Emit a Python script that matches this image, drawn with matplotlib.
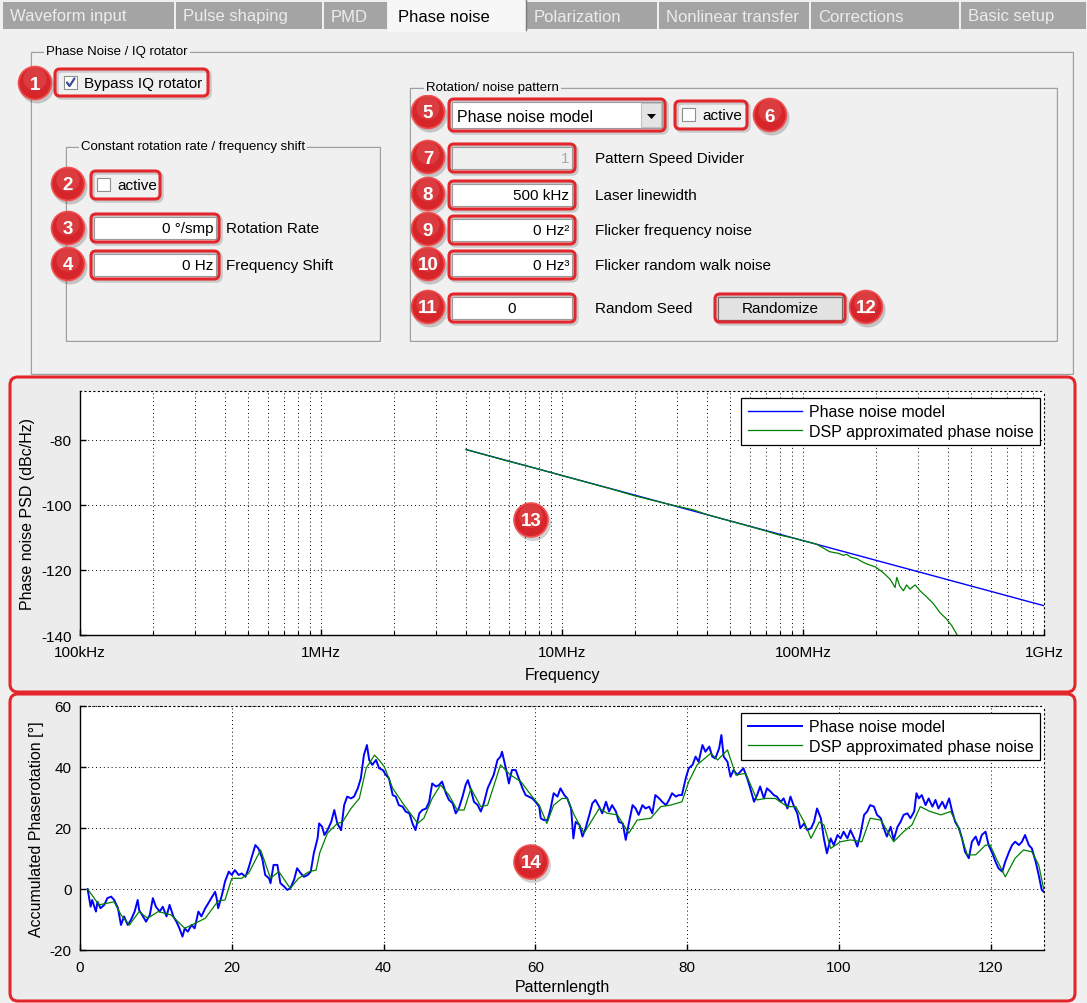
import matplotlib
matplotlib.use("Agg")
import matplotlib.pyplot as plt
from matplotlib.patches import Rectangle, Circle, FancyBboxPatch, Polygon
from matplotlib.ticker import FixedLocator, NullFormatter

plt.rcParams["font.family"] = ["Liberation Sans", "DejaVu Sans"]
plt.rcParams["axes.unicode_minus"] = False

W, H = 1087, 1004
BG = "#f0f0f0"
RED = "#e3262b"

# ---- GUI texts ----
tab_labels = ["Waveform input", "Pulse shaping", "PMD", "Phase noise",
              "Polarization", "Nonlinear transfer", "Corrections", "Basic setup"]
tab_edges = [2, 175, 323, 388, 526, 658, 810, 960, 1087]
active_tab = 3

# ---- PSD plot ----
psd_ticks = [1e5, 1e6, 1e7, 1e8, 1e9]
psd_ticklabels = ["100kHz", "1MHz", "10MHz", "100MHz", "1GHz"]
model_freq = [4e6, 1e9]
model_db = [-83, -131]
dsp_freq = [4e6, 5e6, 6e6, 8e6, 1e7, 1.3e7, 1.6e7, 2e7, 2.5e7, 3e7, 3.5e7, 4e7,
            5e7, 6e7, 7e7, 8e7, 9e7, 1.0e8, 1.14e8, 1.29e8, 1.4e8, 1.47e8,
            1.52e8, 1.58e8, 1.67e8, 1.75e8, 1.83e8, 2.0e8, 2.15e8, 2.3e8,
            2.41e8, 2.45e8, 2.52e8, 2.61e8, 2.69e8, 2.78e8, 2.92e8, 3.06e8,
            3.26e8, 3.47e8, 3.7e8, 3.94e8, 4.14e8, 4.34e8, 4.45e8]
dsp_db = [-83, -85, -86.6, -89, -91, -93.3, -95.1, -97.2, -99, -100.4, -101.5, -103,
          -105, -106.6, -108, -109.3, -110.1, -111, -112.1, -114.4, -114.9, -115.5,
          -115.2, -116.1, -116.5, -117.4, -118.1, -119.1, -120.8, -122.9,
          -125.4, -122.3, -124.9, -126.4, -124.6, -125.9, -124.6, -126.4,
          -128.3, -130.3, -133.1, -135.1, -137.1, -139.7, -141.5]

# ---- accumulated phase rotation ----
rot_x = [1.0, 1.2, 1.4, 1.6, 2.1, 2.3, 2.7, 3.2, 3.6, 4.1, 4.5, 5.0, 5.4, 5.8, 6.3,
         6.7, 7.2, 7.6, 7.8, 8.3, 8.7, 9.2, 9.6, 10.0, 10.5, 10.9, 11.4, 11.8, 12.3,
         12.7, 13.1, 13.5, 13.8, 14.2, 14.7, 15.1, 15.6, 16.0, 16.5, 16.9, 17.3,
         17.8, 18.0, 18.2, 18.7, 19.1, 19.6, 20.0, 20.4, 20.9, 21.3, 21.8, 22.2,
         22.7, 23.1, 23.5, 24.0, 24.4, 24.9, 25.1, 25.5, 26.0, 26.4, 26.9, 27.3,
         27.7, 28.2, 28.6, 29.1, 29.5, 30.0, 30.4, 30.8, 31.3, 31.5, 31.9,
         32.2, 32.6, 33.1, 33.5, 33.9, 34.4, 34.8, 35.2, 35.7, 36.1, 36.6, 37.0,
         37.4, 37.8, 38.1, 38.5, 39.0, 39.4, 39.9, 40.3, 40.7, 41.2, 41.6, 42.0,
         42.5, 42.9, 43.4, 43.8, 44.2, 44.7, 45.1, 45.6, 46.0, 46.4, 46.9, 47.3,
         47.7, 48.2, 48.6, 49.1, 49.5, 49.9, 50.4, 50.8, 51.1, 51.5, 51.9, 52.4,
         52.8, 53.2, 53.7, 54.1, 54.5, 55.0, 55.4, 55.6, 56.1, 56.5, 56.9, 57.4,
         57.8, 58.3, 58.7, 59.1, 59.6, 60.0, 60.5, 60.7, 61.1, 61.6, 62.0, 62.4,
         62.9, 63.3, 63.8, 64.2, 64.7, 65.0, 65.3, 65.8, 66.2, 66.6, 67.1, 67.5,
         67.9, 68.4, 68.8, 69.3, 69.7, 70.1, 70.6, 71.0, 71.5, 71.9, 72.3, 72.8,
         73.2, 73.6, 74.1, 74.5, 75.0, 75.4, 75.8, 76.3, 76.7, 77.2, 77.6, 78.0,
         78.5, 78.9, 79.3, 79.8, 80.2, 80.7, 81.1, 81.5, 82.0, 82.4, 82.9, 83.3,
         83.7, 84.2, 84.5, 84.8, 85.3, 85.7, 86.1, 86.6, 87.0, 87.4, 87.9, 88.3,
         88.8, 89.2, 89.6, 90.1, 90.5, 91.0, 91.4, 91.8, 92.3, 92.7, 93.2, 93.6,
         94.0, 94.5, 94.9, 95.4, 95.8, 96.3, 96.7, 97.1, 97.6, 98.0, 98.4, 98.9,
         99.3, 99.8, 100.2, 100.6, 101.1, 101.5, 102.0, 102.4, 102.8, 103.3,
         103.7, 104.1, 104.6, 105.0, 105.5, 105.9, 106.3, 106.8, 107.2, 107.7,
         108.1, 108.5, 109.0, 109.4, 109.9, 110.2, 110.5, 110.9, 111.4, 111.8,
         112.3, 112.7, 113.1, 113.6, 114.0, 114.5, 114.9, 115.3, 115.8, 116.2,
         116.6, 117.1, 117.5, 118.0, 118.4, 118.8, 119.3, 119.7, 120.2, 120.6,
         121.0, 121.5, 121.9, 122.4, 122.8, 123.2, 123.7, 124.1, 124.5, 125.0,
         125.4, 125.9, 126.3, 126.7, 127.0]
rot_model = [0, -3, -5.8, -3.6, -7.4, -4.2, -6.3, -5.2, -3, -2.5, -3.6, -6.3, -11.8, -9, -11.8,
             -10.2, -7.4, -3.6, -7, -9, -10.7, -8.5, -3, -5.8, -7.4, -5.8, -9, -5.2, -9,
             -10.7, -12.9, -15.6, -12.9, -14, -11.8, -12.9, -7.4, -9, -6.3, -4.7, -3,
             -0.9, -3, -6.3, -2, 2.4, 5.7, 4.6, 6.2, 4.6, 5.1, 4, 6.8,
             11.1, 14.4, 13.3, 10.1, 4.6, 3.5, 1.9, 7.9, 7.9, 1.9, 0.8, -0.3,
             0.2, 3, 6.8, 5.1, 4, 4.6, 5.7, 11.7, 16.6, 21.5, 20.4,
             17.7, 19.3, 22, 25.9, 21.5, 19.3, 27.5, 30.3, 29.7, 30.3, 33, 36.3,
             43.9, 47.2, 42.3, 40.7, 42.3, 39.6, 39, 37.4, 36.3, 30.8, 30.3, 27.5,
             27, 25.4, 24.8, 21.5, 19.3, 24.8, 25.9, 26.4, 28.6, 34.6, 33.6, 34.1,
             35.2, 31.4, 29.2, 28.1, 24.8, 26.4, 30.3, 34.1, 35.7, 32.5, 28.6, 27.5,
             25.4, 28.1, 33, 35.2, 37.4, 42.3, 43.4, 45, 39.6, 34.6, 39, 39,
             36.3, 33, 30.8, 30.3, 29.7, 28.6, 27, 23.2, 22.6, 22.6, 26.4, 31.4,
             30.3, 33, 30.8, 29.7, 26.4, 16.6, 22, 21, 17.2, 19.9, 24.3, 28.1,
             29.2, 27, 24.8, 28.6, 25.4, 27.5, 25.4, 22, 21.5, 16.1, 21.5, 27.5,
             26.4, 24.3, 27.5, 26.4, 27, 24.8, 30.8, 29.7, 28.6, 27.5, 29.2, 31.4,
             30.3, 30.8, 30.8, 36.3, 39.6, 40.7, 43.4, 41.7, 47.2, 45, 46.7, 43.4,
             42.8, 46.1, 50.5, 43.4, 41.7, 36.8, 39, 37.4, 38.5, 39.6, 36.3, 33,
             28.6, 30.8, 33.6, 29.7, 33, 31.9, 30.8, 30.3, 28.6, 29.7, 26.4, 30.3,
             27.5, 24.8, 19.9, 21.5, 19.3, 19.9, 22, 26.4, 23.2, 16.6, 11.7, 16.6,
             14.4, 17.7, 16.6, 18.8, 16.6, 19.3, 16.6, 13.9, 17.7, 24.3,
             25.4, 27.5, 27, 24.3, 23.2, 19.9, 17.2, 20.4, 16.1, 20.4,
             22, 24.3, 24.8, 23.2, 25.4, 31.4, 29.7, 30.8, 27.5, 29.7,
             27, 29.2, 26.4, 28.6, 26.4, 29.7, 25.4, 22, 19.9, 16.6,
             12.2, 10.1, 15.5, 17.2, 14.4, 17.7, 18.8, 14.4, 11.7, 9,
             6.8, 5.7, 9, 12.2, 14.4, 15.5, 14.4, 15.5, 17.7, 14.4,
             13.3, 9, 4.6, -0.3, -1]
dsp_x = [1, 2.5, 4.5, 5.4, 6.5, 7.8, 8.9, 10.3, 12, 13.8, 14.7, 16.5, 18.2, 19.1,
         20, 21.3, 22.2, 23.8, 25.1, 26.2, 27.7, 28.8, 30.2, 31.1, 31.6, 32.6,
         33.9, 34.6, 35.7, 36.8, 37.7, 38.8, 39.4, 40.1, 41.2, 42.7, 44.5, 45.3,
         46.4, 47.5, 48.6, 49.7, 50.6, 51.5, 52.8, 53.7, 55.4, 56.7, 58.1, 59.4,
         60.5, 61.5, 62.4, 63.5, 64.2, 65.1, 66.4, 68.4, 69.5, 70.8, 72.3, 73.4,
         75.2, 76.5, 77.8, 79.3, 80.2, 81.3, 83.1, 84.0, 85.3, 86.4, 87.7, 89.2,
         90.3, 91.6, 93.2, 94.3, 95.4, 96.3, 97.4, 98.0, 98.9, 100.2, 101.5,
         103.0, 104.1, 105.5, 107.2, 108.5, 109.6, 110.7, 112.0, 113.4, 114.7,
         115.6, 116.9, 118.0, 119.3, 119.9, 120.8, 121.9, 123.2, 124.3, 125.4,
         126.3, 127.0]
dsp_rot = [0, -5.2, -4.2, -8.5, -11.8, -7.4, -9.6, -7.4, -8.5, -12.9, -11.8, -9.6, -3.9, -3.6,
           3.5, 3.5, 5.1, 12.8, 3.5, 5.7, 0.2, 3.5, 5.7, 6.2, 12, 18.3,
           21.5, 22, 26.4, 29.7, 39.6, 43.9, 42.3, 40.1, 33, 27.5, 21.5, 23.2,
           29.7, 34.1, 30.8, 25.9, 25.9, 33, 27, 27.5, 40.7, 37.4, 35.2, 30.8,
           27.5, 21.5, 27.5, 29.7, 29.7, 24.3, 18.3, 26.4, 24.8, 24.3, 18.3, 22.6,
           23.2, 27, 27.5, 28.6, 35.2, 40.7, 44.5, 42.3, 45.6, 37.4, 37.9, 29.2,
           29.7, 29.7, 27, 27, 22, 16.6, 22, 21, 13.3, 15.5, 16.1,
           15.5, 23.2, 22.6, 15.5, 18.8, 21, 27, 25.4, 24.3, 25.4,
           21, 11.2, 11.2, 14.4, 14.4, 9.5, 4, 10.1, 12.8, 12.2,
           7.9, -0.5]
legend_labels = ["Phase noise model", "DSP approximated phase noise"]

fig = plt.figure(figsize=(W / 100, H / 100), dpi=100, facecolor=BG)


def overlay(z):
    a = fig.add_axes([0, 0, 1, 1], zorder=z)
    a.set_xlim(0, W)
    a.set_ylim(H, 0)
    a.axis("off")
    return a


bg = overlay(0)
fg = overlay(5)


def badge(ax, x, y, n, r=16.5):
    ax.add_patch(Circle((x + 2, y + 3), r + 1, fc="black", alpha=0.18, lw=0))
    ax.add_patch(Circle((x, y), r, fc="#d7262b", ec="#f05252", lw=1.2))
    ax.add_patch(Circle((x, y - 4), r * 0.7, fc="white", alpha=0.10, lw=0))
    ax.text(x, y + 1, str(n), color="white", fontsize=13.5, weight="bold",
            ha="center", va="center")


def red_box(x0, y0, x1, y1):
    bg.add_patch(FancyBboxPatch((x0 + 2, y0 + 2), x1 - x0, y1 - y0,
                                boxstyle="round,pad=0,rounding_size=5",
                                fc="none", ec="#c9c9c9", lw=2.5, zorder=2))
    bg.add_patch(FancyBboxPatch((x0, y0), x1 - x0, y1 - y0,
                                boxstyle="round,pad=0,rounding_size=5",
                                fc="none", ec=RED, lw=2.2, zorder=4))


def field(x0, y0, x1, y1, txt, ha="right", fc="white", tc="black"):
    bg.add_patch(Rectangle((x0 + 3, y0 + 3), x1 - x0 - 6, y1 - y0 - 6,
                           fc=fc, ec="#9a9a9a", lw=0.8, zorder=3))
    ym = (y0 + y1) / 2
    if ha == "right":
        bg.text(x1 - 6, ym, txt, ha="right", va="center", fontsize=11, color=tc, zorder=5)
    else:
        bg.text((x0 + x1) / 2, ym, txt, ha="center", va="center", fontsize=11, color=tc, zorder=5)
    red_box(x0, y0, x1, y1)


def checkbox(x, y, checked=False):
    bg.add_patch(Rectangle((x, y), 13, 13, fc="white", ec="#8e8f8f", lw=0.8, zorder=3))
    if checked:
        bg.plot([x + 3, x + 5.5, x + 10.5], [y + 6.5, y + 10, y + 2.5],
                color="#3a4c92", lw=1.6, zorder=4, solid_capstyle="round")


def group(x0, y0, x1, y1, title, tx):
    bg.add_patch(Rectangle((x0 + 1, y0 + 1), x1 - x0, y1 - y0, fc="none", ec="white", lw=1))
    bg.add_patch(Rectangle((x0, y0), x1 - x0, y1 - y0, fc="none", ec="#a0a0a0", lw=1))
    bg.text(tx, y0 - 1, title, fontsize=9.5, ha="left", va="center",
            bbox=dict(fc=BG, ec="none", pad=1.5))


# ---- tab bar ----
for i, lab in enumerate(tab_labels):
    x0, x1 = tab_edges[i], tab_edges[i + 1]
    if i == active_tab:
        bg.add_patch(Rectangle((x0, 0), x1 - x0, 33, fc="#f7f7f7", ec="none", zorder=2))
        bg.plot([x1, x1], [1, 31], color="#7a7a7a", lw=1, zorder=3)
        bg.text(x0 + 10, 17, lab, fontsize=12, color="black", va="center", zorder=4)
    else:
        bg.add_patch(Rectangle((x0 + 1, 3), x1 - x0 - 2, 27, fc="#a4a4a4", ec="none", zorder=2))
        bg.text(x0 + 8, 17, lab, fontsize=12, color="#ececec", va="center", zorder=4)

# ---- settings panel ----
group(31, 53, 1073, 375, "Phase Noise / IQ rotator", 46)
group(66, 148, 380, 342, "Constant rotation rate / frequency shift", 81)
group(410, 89, 1057, 342, "Rotation/ noise pattern", 426)

checkbox(64, 77, checked=True)
bg.text(84, 84, "Bypass IQ rotator", fontsize=11, va="center")
red_box(55, 70, 208, 97)
badge(bg, 35, 84, 1)

checkbox(97, 179)
bg.text(117, 186, "active", fontsize=11, va="center")
red_box(91, 172, 160, 200)
badge(bg, 68, 185, 2)

field(91, 215, 219, 243, "0 °/smp")
bg.text(226, 229, "Rotation Rate", fontsize=11, va="center")
badge(bg, 68, 229, 3)
field(91, 252, 219, 280, "0 Hz")
bg.text(226, 266, "Frequency Shift", fontsize=11, va="center")
badge(bg, 68, 265, 4)

# dropdown
bg.add_patch(Rectangle((452, 103), 210, 26, fc="white", ec="#9a9a9a", lw=0.8, zorder=3))
bg.add_patch(Rectangle((641, 104), 20, 24, fc="#e4e4e4", ec="#c2c2c2", lw=0.8, zorder=3))
bg.add_patch(Polygon([(647, 115), (656, 115), (651.5, 120)], closed=True, fc="black", zorder=4))
bg.text(457, 117, "Phase noise model", fontsize=11.5, va="center", zorder=5)
red_box(449, 100, 665, 132)
badge(bg, 428, 113, 5)

checkbox(682, 109)
bg.text(702, 116, "active", fontsize=11, va="center")
red_box(675, 102, 747, 130)
badge(bg, 770, 116, 6)

rows = [(145, "1", "Pattern Speed Divider"), (182, "500 kHz", "Laser linewidth"),
        (217, "0 Hz²", "Flicker frequency noise"), (252, "0 Hz³", "Flicker random walk noise")]
for k, (y0, val, lab) in enumerate(rows):
    if k == 0:
        field(449, y0, 575, y0 + 28, val, fc="#f0f0f0", tc="#a8a8a8")
    else:
        field(449, y0, 575, y0 + 28, val)
    bg.text(595, y0 + 14, lab, fontsize=11, va="center")
    badge(bg, 428, y0 + 13, 7 + k)

field(449, 295, 575, 323, "0", ha="center")
bg.text(595, 309, "Random Seed", fontsize=11, va="center")
badge(bg, 428, 308, 11)

bg.add_patch(Rectangle((718, 298), 124, 23, fc="#e2e2e2", ec="#707070", lw=0.9, zorder=3))
bg.text(780, 309.5, "Randomize", fontsize=11, ha="center", va="center", zorder=5)
red_box(715, 295, 845, 323)
badge(bg, 866, 308, 12)

# ---- plot panels ----
for y0, y1 in [(378, 693), (695, 1002)]:
    bg.add_patch(FancyBboxPatch((10, y0), 1065, y1 - y0,
                                boxstyle="round,pad=0,rounding_size=8",
                                fc="#ececec", ec=RED, lw=2.2, zorder=1))


def style_axes(ax):
    for s in ["left", "bottom"]:
        ax.spines[s].set_color("black")
        ax.spines[s].set_linewidth(1.0)
    for s in ["top", "right"]:
        ax.spines[s].set_color("black")
        ax.spines[s].set_linewidth(0.8)
        ax.spines[s].set_linestyle((0, (1, 3)))
    ax.tick_params(which="both", direction="in", top=False, right=False,
                   labelsize=11, colors="black")
    ax.tick_params(which="major", length=4, width=1, pad=6)
    ax.tick_params(axis="x", which="major", pad=7)
    ax.tick_params(which="minor", length=3, width=0.8)


GRID = dict(color="black", lw=0.7, linestyle=(0, (1, 3)))

ax1 = fig.add_axes([80 / W, (H - 636) / H, 964 / W, 244 / H], zorder=2)
ax1.semilogx(model_freq, model_db, color="#0000ff", lw=1.0, label=legend_labels[0])
ax1.semilogx(dsp_freq, dsp_db, color="#008000", lw=0.9, label=legend_labels[1])
ax1.set_xlim(1e5, 1e9)
ax1.set_ylim(-140, -65)
ax1.set_xticks(psd_ticks)
ax1.set_xticklabels(psd_ticklabels)
ax1.xaxis.set_minor_locator(FixedLocator([m * d for d in psd_ticks[:-1] for m in range(2, 10)]))
ax1.xaxis.set_minor_formatter(NullFormatter())
ax1.set_yticks([-140, -120, -100, -80])
ax1.grid(True, which="both", axis="x", **GRID)
ax1.grid(True, which="major", axis="y", **GRID)
style_axes(ax1)
ax1.set_xlabel("Frequency", fontsize=11.5)
ax1.set_ylabel("Phase noise PSD (dBc/Hz)", fontsize=11.5)
ax1.xaxis.set_label_coords(0.5, -0.13)
ax1.yaxis.set_label_coords(-0.047, 0.5)

ax2 = fig.add_axes([80 / W, (H - 951) / H, 964 / W, 244 / H], zorder=2)
ax2.plot(rot_x, rot_model, color="#0000ff", lw=1.4, label=legend_labels[0])
ax2.plot(dsp_x, dsp_rot, color="#008000", lw=0.9, label=legend_labels[1])
ax2.set_xlim(0, 127)
ax2.set_ylim(-20, 60)
ax2.set_xticks([0, 20, 40, 60, 80, 100, 120])
ax2.set_yticks([-20, 0, 20, 40, 60])
ax2.grid(True, **GRID)
style_axes(ax2)
ax2.set_xlabel("Patternlength", fontsize=11.5)
ax2.set_ylabel("Accumulated Phaserotation [°]", fontsize=11.5)
ax2.xaxis.set_label_coords(0.5, -0.12)
ax2.yaxis.set_label_coords(-0.037, 0.5)

for ax in (ax1, ax2):
    leg = ax.legend(loc="upper right", bbox_to_anchor=(0.996, 0.972), borderaxespad=0,
                    fontsize=11.5, frameon=True, fancybox=False, handlelength=3.4,
                    handletextpad=0.45, borderpad=0.4, labelspacing=0.3)
    leg.get_frame().set_edgecolor("black")
    leg.get_frame().set_linewidth(0.9)
    leg.get_frame().set_alpha(1)

badge(fg, 531, 521, 13, r=17)
badge(fg, 531, 863, 14, r=17)

fig.savefig("out.png", dpi=100, facecolor=BG)
